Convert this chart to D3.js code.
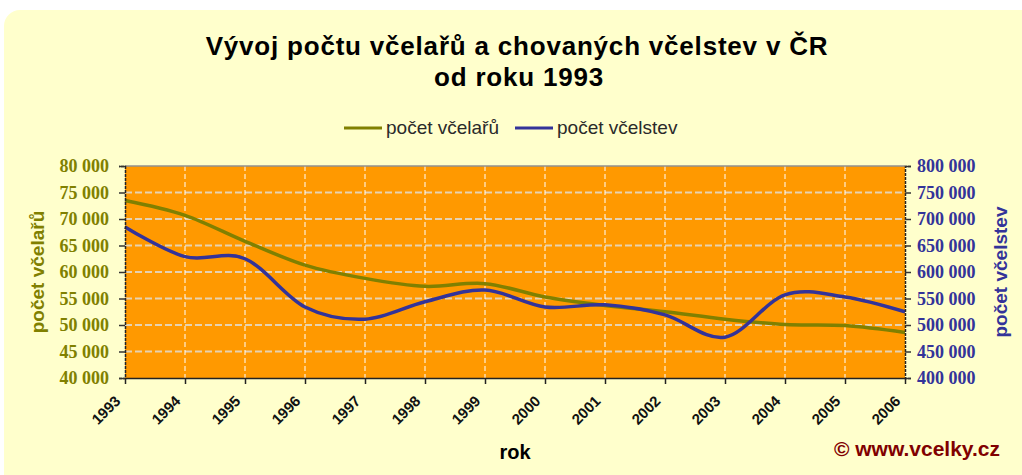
<!DOCTYPE html>
<html>
<head>
<meta charset="utf-8">
<script src="https://cdn.jsdelivr.net/npm/d3@7"></script>
<style>
  body { margin: 0; background: #ffffff; }
  svg { display: block; }
</style>
</head>
<body>
<div class="chart"></div>
<script>
let olive = "#808000";
let navy = "#333399";
let plotOrange = "#FF9900";
let panelYellow = "#FFFFCC";
let darkRed = "#800000";

const years = [1993, 1994, 1995, 1996, 1997, 1998, 1999, 2000, 2001, 2002, 2003, 2004, 2005, 2006];
const beekeepers = [73500, 70700, 65800, 61300, 58800, 57300, 57800, 55300, 53700, 52500, 51100, 50100, 49900, 48600];
const colonies = [685000, 629000, 625000, 534000, 511000, 544000, 566000, 534000, 538000, 519000, 477000, 557000, 553000, 525000];
const leftTicks = [40000, 45000, 50000, 55000, 60000, 65000, 70000, 75000, 80000];
const rightTicks = [400000, 450000, 500000, 550000, 600000, 650000, 700000, 750000, 800000];

const width = 1022;
const height = 475;
const margin = { top: 166, right: 117, bottom: 97, left: 125 };
const boundedWidth = width - margin.left - margin.right;
const boundedHeight = height - margin.top - margin.bottom;

const fmt = v => d3.format(",")(v).replace(/,/g, " ");

const svg = d3.select(".chart")
  .append("svg")
  .attr("width", width)
  .attr("height", height);

// panel
svg.append("rect")
  .attr("x", 4)
  .attr("y", 10)
  .attr("width", width + 20)
  .attr("height", height + 20)
  .attr("rx", 16)
  .attr("fill", panelYellow);

// title
svg.append("text")
  .attr("x", 517)
  .attr("y", 55)
  .attr("text-anchor", "middle")
  .style("font-family", "Liberation Sans, Arial, sans-serif")
  .style("font-size", "26px")
  .style("font-weight", "bold")
  .style("letter-spacing", "0.8px")
  .text("Vývoj počtu včelařů a chovaných včelstev v ČR");

svg.append("text")
  .attr("x", 519)
  .attr("y", 86)
  .attr("text-anchor", "middle")
  .style("font-family", "Liberation Sans, Arial, sans-serif")
  .style("font-size", "26px")
  .style("font-weight", "bold")
  .style("letter-spacing", "0.8px")
  .text("od roku 1993");

// legend
const legendItems = [
  { label: "počet včelařů", color: olive, x: 344 },
  { label: "počet včelstev", color: navy, x: 515 }
];
const legend = svg.append("g");
legendItems.forEach(item => {
  legend.append("line")
    .attr("x1", item.x)
    .attr("x2", item.x + 38)
    .attr("y1", 128)
    .attr("y2", 128)
    .attr("stroke", item.color)
    .attr("stroke-width", 3);
  legend.append("text")
    .attr("x", item.x + 42)
    .attr("y", 134)
    .style("font-family", "Liberation Sans, Arial, sans-serif")
    .style("font-size", "19px")
    .style("fill", "#2a2a2a")
    .text(item.label);
});

const g = svg.append("g")
  .attr("transform", `translate(${margin.left}, ${margin.top})`);

// scales
const xScale = d3.scalePoint()
  .domain(years)
  .range([0, boundedWidth]);

const yLeft = d3.scaleLinear()
  .domain([40000, 80000])
  .range([boundedHeight, 0]);

const yRight = d3.scaleLinear()
  .domain([400000, 800000])
  .range([boundedHeight, 0]);

// plot background
g.append("rect")
  .attr("width", boundedWidth)
  .attr("height", boundedHeight)
  .attr("fill", plotOrange);

// horizontal grid
g.selectAll(".hgrid")
  .data(leftTicks.slice(1, -1))
  .enter()
  .append("line")
  .attr("x1", 0)
  .attr("x2", boundedWidth)
  .attr("y1", d => yLeft(d))
  .attr("y2", d => yLeft(d))
  .attr("stroke", "#E6D2B0")
  .attr("stroke-width", 2)
  .attr("stroke-dasharray", "7,3");

// vertical grid
g.selectAll(".vgrid")
  .data(years.slice(1, -1))
  .enter()
  .append("line")
  .attr("x1", d => xScale(d))
  .attr("x2", d => xScale(d))
  .attr("y1", 0)
  .attr("y2", boundedHeight)
  .attr("stroke", "#ffffff")
  .attr("stroke-width", 1)
  .attr("stroke-dasharray", "5,3");

// top border
g.append("line")
  .attr("x1", 0).attr("x2", boundedWidth)
  .attr("y1", 0).attr("y2", 0)
  .attr("stroke", "#909090")
  .attr("stroke-width", 1.5);

// lines
const lineLeft = d3.line()
  .x((d, i) => xScale(years[i]))
  .y(d => yLeft(d))
  .curve(d3.curveCatmullRom.alpha(0));

const lineRight = d3.line()
  .x((d, i) => xScale(years[i]))
  .y(d => yRight(d))
  .curve(d3.curveCatmullRom.alpha(0));

g.append("path")
  .datum(beekeepers)
  .attr("d", lineLeft)
  .attr("fill", "none")
  .attr("stroke", olive)
  .attr("stroke-width", 3.5);

g.append("path")
  .datum(colonies)
  .attr("d", lineRight)
  .attr("fill", "none")
  .attr("stroke", navy)
  .attr("stroke-width", 3.5);

// left axis
const leftAxis = g.append("g")
  .attr("class", "yaxis-left")
  .call(d3.axisLeft(yLeft).tickValues(leftTicks).tickSize(6).tickPadding(10).tickFormat(fmt));
leftAxis.select(".domain").attr("stroke", "#222").attr("stroke-width", 1.5).attr("stroke-dasharray", "3,1");
leftAxis.selectAll(".tick line").attr("stroke", "#333").attr("stroke-width", 1.5);
leftAxis.selectAll(".tick text")
  .style("fill", olive)
  .style("font-family", "Liberation Serif, Times New Roman, serif")
  .style("font-weight", "bold")
  .style("font-size", "18px");

// right axis
const rightAxis = g.append("g")
  .attr("class", "yaxis-right")
  .attr("transform", `translate(${boundedWidth}, 0)`)
  .call(d3.axisRight(yRight).tickValues(rightTicks).tickSize(6).tickPadding(6).tickFormat(fmt));
rightAxis.select(".domain").attr("stroke", "#222").attr("stroke-width", 1.5).attr("stroke-dasharray", "3,1");
rightAxis.selectAll(".tick line").attr("stroke", "#333").attr("stroke-width", 1.5);
rightAxis.selectAll(".tick text")
  .style("fill", navy)
  .style("font-family", "Liberation Serif, Times New Roman, serif")
  .style("font-weight", "bold")
  .style("font-size", "18px");

// x axis
const xAxis = g.append("g")
  .attr("class", "xaxis")
  .attr("transform", `translate(0, ${boundedHeight})`)
  .call(d3.axisBottom(xScale).tickSize(6).tickSizeOuter(0));
xAxis.select(".domain").attr("stroke", "#222").attr("stroke-width", 1.5);
xAxis.selectAll(".tick line").attr("stroke", "#222").attr("stroke-width", 1.5);
xAxis.selectAll(".tick text")
  .attr("text-anchor", "end")
  .attr("dy", null)
  .attr("y", null)
  .attr("transform", "translate(-4, 24) rotate(-45)")
  .style("fill", "#111")
  .style("font-family", "Liberation Sans, Arial, sans-serif")
  .style("font-weight", "bold")
  .style("font-size", "15px");

// axis titles
svg.append("text")
  .attr("transform", "translate(44, 272) rotate(-90)")
  .attr("text-anchor", "middle")
  .style("fill", olive)
  .style("font-family", "Liberation Sans, Arial, sans-serif")
  .style("font-weight", "bold")
  .style("font-size", "19px")
  .text("počet včelařů");

svg.append("text")
  .attr("transform", "translate(1007, 272) rotate(-90)")
  .attr("text-anchor", "middle")
  .style("fill", navy)
  .style("font-family", "Liberation Sans, Arial, sans-serif")
  .style("font-weight", "bold")
  .style("font-size", "19px")
  .text("počet včelstev");

svg.append("text")
  .attr("x", 515)
  .attr("y", 459)
  .attr("text-anchor", "middle")
  .style("font-family", "Liberation Sans, Arial, sans-serif")
  .style("font-weight", "bold")
  .style("font-size", "20px")
  .text("rok");

svg.append("text")
  .attr("x", 1000)
  .attr("y", 456)
  .attr("text-anchor", "end")
  .style("fill", darkRed)
  .style("font-family", "Liberation Sans, Arial, sans-serif")
  .style("font-weight", "bold")
  .style("font-size", "21px")
  .text("© www.vcelky.cz");
</script>
</body>
</html>
